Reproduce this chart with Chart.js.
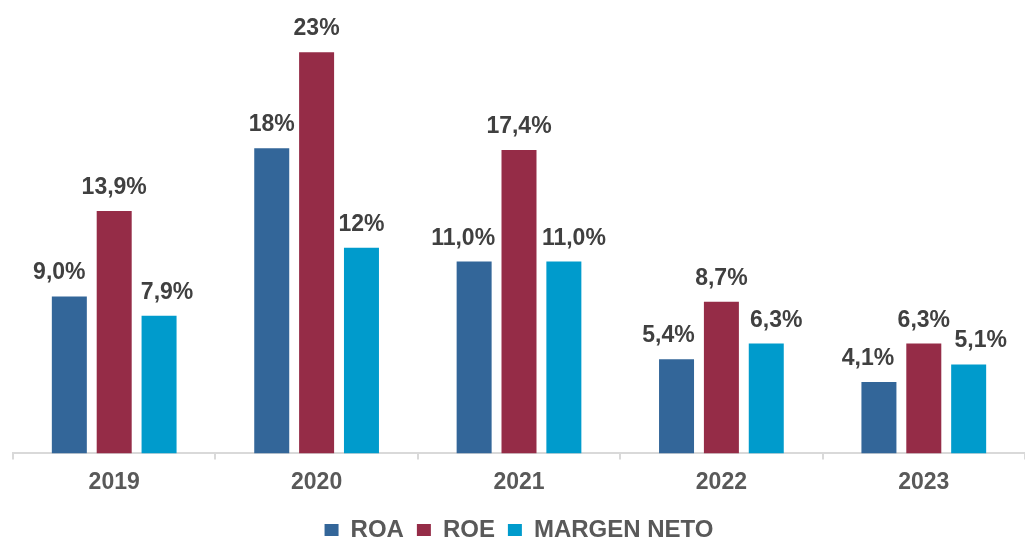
<!DOCTYPE html>
<html>
<head>
<meta charset="utf-8">
<script src="https://cdn.jsdelivr.net/npm/chart.js@4/dist/chart.umd.min.js"></script>
<style>
  html, body { margin: 0; padding: 0; background: #fff; overflow: hidden; }
  #wrap { width: 1025px; height: 552px; }
</style>
</head>
<body>
<div id="wrap"><canvas id="chart"></canvas></div>
<script>
const years = ['2019', '2020', '2021', '2022', '2023'];
const roa = [9.0, 17.5, 11.0, 5.4, 4.1];
const roe = [13.9, 23.0, 17.4, 8.7, 6.3];
const margenNeto = [7.9, 11.8, 11.0, 6.3, 5.1];
const roaLabels = ['9,0%', '18%', '11,0%', '5,4%', '4,1%'];
const roeLabels = ['13,9%', '23%', '17,4%', '8,7%', '6,3%'];
const margenLabels = ['7,9%', '12%', '11,0%', '6,3%', '5,1%'];

// small sideways nudges so neighbouring labels don't collide
const labelNudge = [
  [-10, 0, -11, -8, -11],
  [0, 0, 0, 0, 0],
  [8, 0, 10, 10, 12]
];

const barLabels = {
  id: 'barLabels',
  afterDatasetsDraw(chart) {
    const ctx = chart.ctx;
    ctx.save();
    ctx.font = 'bold 23px "Liberation Sans", Arial, sans-serif';
    ctx.fillStyle = '#404040';
    ctx.textAlign = 'center';
    ctx.textBaseline = 'alphabetic';
    chart.data.datasets.forEach((ds, i) => {
      chart.getDatasetMeta(i).data.forEach((bar, j) => {
        ctx.fillText(ds.valueLabels[j], bar.x + labelNudge[i][j], bar.y - 17);
      });
    });
    ctx.restore();
  }
};

new Chart(document.getElementById('chart'), {
  type: 'bar',
  data: {
    labels: years,
    datasets: [
      { label: 'ROA', data: roa, valueLabels: roaLabels, backgroundColor: '#336699' },
      { label: 'ROE', data: roe, valueLabels: roeLabels, backgroundColor: '#952c47' },
      { label: 'MARGEN NETO', data: margenNeto, valueLabels: margenLabels, backgroundColor: '#009bcc' }
    ]
  },
  options: {
    responsive: true,
    maintainAspectRatio: false,
    animation: false,
    categoryPercentage: 0.665,
    barPercentage: 0.78,
    layout: { padding: { left: 13, right: 0, top: 0, bottom: 0 } },
    scales: {
      x: {
        grid: {
          display: true,
          drawOnChartArea: false,
          drawTicks: true,
          tickLength: 6,
          color: '#d9d9d9',
          lineWidth: 2
        },
        border: { display: true, color: '#d9d9d9', width: 2 },
        ticks: {
          color: '#595959',
          padding: 9,
          font: { family: '"Liberation Sans", Arial, sans-serif', size: 23, weight: 'bold' }
        }
      },
      y: {
        display: false,
        min: 0,
        max: 26
      }
    },
    plugins: {
      tooltip: { enabled: false },
      legend: {
        position: 'bottom',
        labels: {
          boxWidth: 14,
          boxHeight: 12,
          padding: 13,
          color: '#595959',
          font: { family: '"Liberation Sans", Arial, sans-serif', size: 24, weight: 'bold' }
        }
      }
    }
  },
  plugins: [barLabels]
});
</script>
</body>
</html>
